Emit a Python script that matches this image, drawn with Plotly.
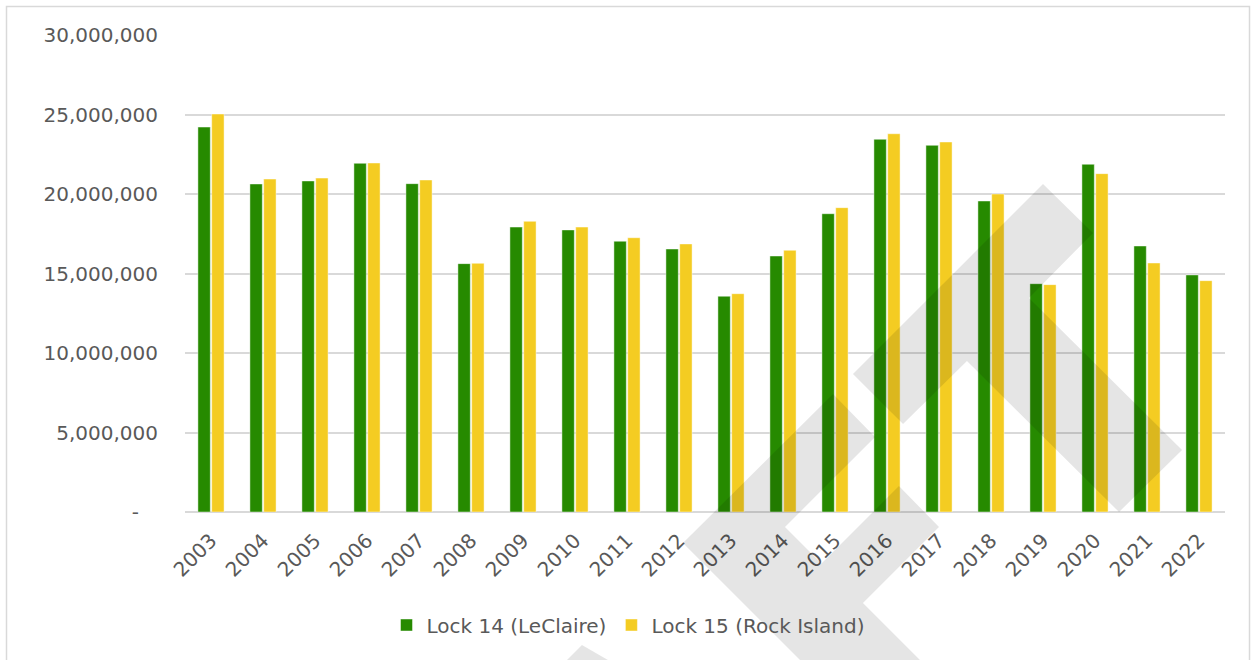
import plotly.graph_objects as go

# Annual tonnage through the two locks
years = [str(y) for y in range(2003, 2023)]
lock14_leclaire = [
    24_210_000, 20_630_000, 20_820_000, 21_930_000, 20_650_000,
    15_620_000, 17_920_000, 17_740_000, 17_030_000, 16_540_000,
    13_570_000, 16_100_000, 18_760_000, 23_440_000, 23_060_000,
    19_560_000, 14_360_000, 21_870_000, 16_730_000, 14_910_000,
]
lock15_rock_island = [
    25_030_000, 20_940_000, 21_000_000, 21_950_000, 20_880_000,
    15_640_000, 18_280_000, 17_920_000, 17_250_000, 16_860_000,
    13_730_000, 16_460_000, 19_140_000, 23_790_000, 23_270_000,
    20_000_000, 14_300_000, 21_280_000, 15_660_000, 14_550_000,
]
series_names = ["Lock 14 (LeClaire)", "Lock 15 (Rock Island)"]
y_tickvals = [0, 5_000_000, 10_000_000, 15_000_000, 20_000_000, 25_000_000, 30_000_000]
y_ticktext = ["-\u00a0\u00a0\u00a0", "5,000,000", "10,000,000", "15,000,000",
              "20,000,000", "25,000,000", "30,000,000"]

GREEN = "#268a00"
YELLOW = "#f4cc22"
TEXT = "#595959"
GRID = "#d9d9d9"
FONT = "DejaVu Sans"
FSIZE = 20

W, H = 1252, 660
M_L, M_R, M_T, M_B = 185, 27, 35, 148
PLOT_W = W - M_L - M_R
PLOT_H = H - M_T - M_B


def to_paper(pts):
    """Pixel positions on the page -> paper coordinates of the plot area."""
    return [((x - M_L) / PLOT_W, (H - M_B - y) / PLOT_H) for x, y in pts]


def path_of(pts):
    p = to_paper(pts)
    return "M" + " L".join(f"{x:.4f},{y:.4f}" for x, y in p) + " Z"


fig = go.Figure()
fig.add_trace(go.Bar(
    x=years, y=lock14_leclaire, name=series_names[0],
    marker=dict(color=GREEN, line=dict(color="rgba(255,255,255,0.45)", width=1)),
))
fig.add_trace(go.Bar(
    x=years, y=lock15_rock_island, name=series_names[1],
    marker=dict(color=YELLOW, line=dict(color="rgba(255,255,255,0.45)", width=1)),
))

# faint logo watermark drawn over the chart
watermark = [
    [(853, 374), (1043, 184), (1093, 233), (1029, 298), (1182, 450),
     (1119, 512), (967, 361), (903, 424)],
    [(683, 543), (833, 394), (875, 437), (785, 527), (821.5, 563.5),
     (899, 486), (939, 527), (863, 603), (960, 700), (840, 700)],
    [(560, 667), (582, 645), (620, 667)],
]
shapes = [
    dict(type="path", xref="paper", yref="paper", path=path_of(poly),
         fillcolor="rgba(0,0,0,0.10)", line=dict(width=0), layer="above")
    for poly in watermark
]
# outer frame
(fx0, fy0), (fx1, fy1) = to_paper([(6.5, 6.5), (1249.5, 700)])
shapes.append(dict(type="rect", xref="paper", yref="paper",
                   x0=fx0, y0=fy1, x1=fx1, y1=fy0,
                   line=dict(color=GRID, width=1.5), fillcolor="rgba(0,0,0,0)",
                   layer="below"))

(lx, ly), = to_paper([(628, 625)])

fig.update_layout(
    width=W, height=H, autosize=False,
    margin=dict(l=M_L, r=M_R, t=M_T, b=M_B, autoexpand=False),
    paper_bgcolor="white", plot_bgcolor="white",
    barmode="group", bargap=0.47, bargroupgap=0.1,
    font=dict(family=FONT, size=FSIZE, color=TEXT),
    showlegend=True,
    legend=dict(orientation="h", x=lx, xanchor="center",
                y=ly, yanchor="middle", font=dict(size=FSIZE, color=TEXT),
                bgcolor="rgba(0,0,0,0)", itemwidth=30, tracegroupgap=0),
    shapes=shapes,
)
fig.update_xaxes(
    type="category", tickangle=-45, showgrid=False, zeroline=False,
    showline=False, ticks="outside", ticklen=8, tickcolor="rgba(0,0,0,0)",
    tickfont=dict(size=FSIZE, color=TEXT), automargin=False,
)
fig.update_yaxes(
    range=[0, 30_000_000], tickvals=y_tickvals, ticktext=y_ticktext,
    showgrid=True, gridcolor=GRID, gridwidth=1.5,
    zeroline=True, zerolinecolor=GRID, zerolinewidth=1.5, showline=False,
    ticks="outside", ticklen=22, tickcolor="rgba(0,0,0,0)",
    tickfont=dict(size=FSIZE, color=TEXT), automargin=False,
)

fig.write_html("out.html")
